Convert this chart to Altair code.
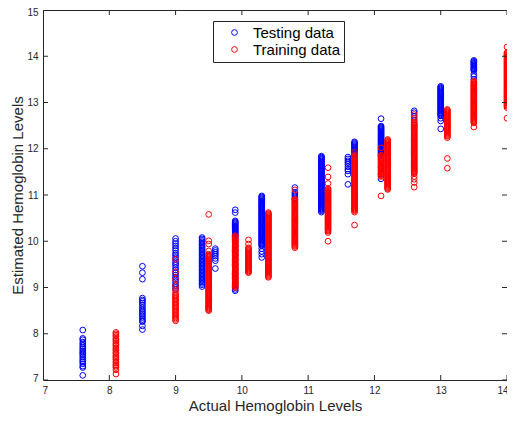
import altair as alt
import pandas as pd

# Axis ticks
x_ticks = [7, 8, 9, 10, 11, 12, 13, 14]
y_ticks = [7, 8, 9, 10, 11, 12, 13, 14, 15]

# Testing data: actual level -> estimated levels
test_levels = [7.6, 8.5, 9.0, 9.4, 9.6, 9.9, 10.3, 10.8, 11.2, 11.6, 11.7, 12.1, 12.6, 13.0, 13.5]
test_estimates = [
    [8.08, 7.90, 7.87, 7.82, 7.78, 7.74, 7.70, 7.67, 7.63, 7.60, 7.57, 7.54, 7.50, 7.46, 7.42, 7.39, 7.35, 7.30, 7.27, 7.10],
    [9.46, 9.32, 9.18, 8.77, 8.73, 8.70, 8.66, 8.62, 8.57, 8.53, 8.49, 8.46, 8.42, 8.39, 8.35, 8.31, 8.28, 8.26, 8.17, 8.09],
    [10.06, 10.00, 9.95, 9.90, 9.85, 9.80, 9.74, 9.70, 9.65, 9.61, 9.56, 9.52, 9.48, 9.43, 9.38, 9.32, 9.27, 9.22, 9.18, 9.13, 9.08, 9.04, 9.00, 8.96],
    [10.08, 10.05, 10.02, 9.99, 9.96, 9.93, 9.90, 9.87, 9.84, 9.81, 9.78, 9.75, 9.72, 9.69, 9.66, 9.63, 9.60, 9.57, 9.54, 9.51, 9.48, 9.45, 9.42, 9.39, 9.36, 9.33, 9.30, 9.27, 9.24, 9.21, 9.18, 9.15, 9.12, 9.09, 9.06, 9.02],
    [9.84, 9.80, 9.76, 9.72, 9.68, 9.63, 9.58, 9.41],
    [10.68, 10.62, 10.44, 10.42, 10.40, 10.38, 10.36, 10.34, 10.32, 10.30, 10.28, 10.26, 10.24, 10.22, 10.20, 10.18, 10.16, 10.14, 10.12, 10.08, 10.00, 9.90, 9.80, 9.70, 9.60, 9.50, 9.40, 9.30, 9.20, 9.10, 9.05, 9.00, 8.96, 8.93],
    [10.98, 10.96, 10.94, 10.92, 10.90, 10.88, 10.86, 10.84, 10.82, 10.80, 10.78, 10.76, 10.74, 10.72, 10.70, 10.68, 10.66, 10.64, 10.62, 10.60, 10.58, 10.56, 10.54, 10.52, 10.50, 10.48, 10.46, 10.44, 10.42, 10.40, 10.38, 10.36, 10.34, 10.32, 10.30, 10.28, 10.26, 10.24, 10.22, 10.20, 10.18, 10.16, 10.14, 10.12, 10.10, 10.08, 10.06, 10.04, 10.02, 10.00, 9.98, 9.96, 9.94, 9.92, 9.90, 9.84, 9.78, 9.72, 9.65],
    [11.16, 11.06, 11.02, 10.98, 10.94, 10.91],
    [11.84, 11.82, 11.80, 11.78, 11.76, 11.74, 11.72, 11.70, 11.68, 11.66, 11.64, 11.62, 11.60, 11.58, 11.56, 11.54, 11.52, 11.50, 11.48, 11.46, 11.44, 11.42, 11.40, 11.38, 11.36, 11.34, 11.32, 11.30, 11.28, 11.26, 11.24, 11.22, 11.20, 11.18, 11.16, 11.14, 11.12, 11.10, 11.08, 11.06, 11.04, 11.02, 11.00, 10.98, 10.96, 10.94, 10.92, 10.90, 10.88, 10.86, 10.84, 10.82, 10.80, 10.78, 10.76, 10.74, 10.72, 10.70, 10.68, 10.66, 10.63],
    [11.82, 11.78, 11.74, 11.70, 11.66, 11.61, 11.56, 11.52, 11.45, 11.23],
    [12.15, 12.13, 12.11, 12.09, 12.07, 12.05, 12.03, 12.01, 11.99, 11.97, 11.95, 11.93, 11.91, 11.89, 11.87],
    [12.65, 12.49, 12.47, 12.45, 12.43, 12.41, 12.39, 12.37, 12.35, 12.33, 12.31, 12.29, 12.27, 12.25, 12.23, 12.21, 12.19, 12.17, 12.15, 12.13, 12.11, 12.09, 12.07, 12.05, 12.03, 12.01, 11.99, 11.97, 11.95, 11.93, 11.91, 11.89, 11.87, 11.85, 11.60, 11.45, 11.35],
    [12.82, 12.78, 12.70, 12.62],
    [13.35, 13.33, 13.31, 13.29, 13.27, 13.25, 13.23, 13.21, 13.19, 13.17, 13.15, 13.13, 13.11, 13.09, 13.07, 13.05, 13.03, 13.01, 12.99, 12.97, 12.95, 12.93, 12.91, 12.89, 12.87, 12.85, 12.83, 12.81, 12.79, 12.77, 12.75, 12.73, 12.71, 12.66, 12.60, 12.43],
    [13.91, 13.89, 13.87, 13.85, 13.83, 13.81, 13.79, 13.77, 13.75, 13.73, 13.71, 13.69, 13.61, 13.56, 13.50],
]

# Training data: actual level -> estimated levels
train_levels = [8.1, 9.0, 9.5, 9.9, 10.1, 10.4, 10.8, 11.3, 11.7, 12.1, 12.2, 12.6, 13.1, 13.5, 14.0]
train_estimates = [
    [8.03, 8.00, 7.97, 7.94, 7.90, 7.87, 7.84, 7.80, 7.77, 7.74, 7.70, 7.67, 7.64, 7.60, 7.57, 7.53, 7.50, 7.47, 7.44, 7.40, 7.37, 7.33, 7.30, 7.27, 7.22, 7.13],
    [9.61, 9.34, 9.18, 9.04, 8.95, 8.89, 8.85, 8.82, 8.79, 8.76, 8.73, 8.70, 8.67, 8.64, 8.61, 8.58, 8.55, 8.52, 8.49, 8.46, 8.43, 8.40, 8.37, 8.34, 8.31, 8.28],
    [10.58, 10.01, 9.94, 9.79, 9.72, 9.70, 9.68, 9.66, 9.64, 9.62, 9.60, 9.58, 9.56, 9.54, 9.52, 9.50, 9.48, 9.46, 9.44, 9.42, 9.40, 9.38, 9.36, 9.34, 9.32, 9.30, 9.28, 9.26, 9.24, 9.22, 9.20, 9.18, 9.16, 9.14, 9.12, 9.10, 9.08, 9.06, 9.04, 9.02, 9.00, 8.98, 8.96, 8.94, 8.92, 8.90, 8.88, 8.86, 8.84, 8.82, 8.80, 8.78, 8.76, 8.74, 8.72, 8.70, 8.68, 8.66, 8.64, 8.62, 8.60, 8.58, 8.56, 8.54, 8.52, 8.50],
    [10.12, 10.10, 10.08, 10.06, 10.04, 10.02, 10.00, 9.98, 9.96, 9.94, 9.92, 9.90, 9.88, 9.86, 9.84, 9.82, 9.80, 9.78, 9.76, 9.74, 9.72, 9.70, 9.68, 9.66, 9.64, 9.62, 9.60, 9.58, 9.56, 9.54, 9.52, 9.50, 9.48, 9.46, 9.44, 9.42, 9.40, 9.38, 9.36, 9.34, 9.32, 9.30, 9.28, 9.26, 9.24, 9.22, 9.20, 9.18, 9.16, 9.14, 9.12, 9.10, 9.08, 9.06, 9.04, 9.02, 9.00],
    [10.03, 9.94, 9.86, 9.84, 9.82, 9.80, 9.78, 9.76, 9.74, 9.72, 9.70, 9.68, 9.66, 9.64, 9.62, 9.60, 9.58, 9.56, 9.54, 9.52, 9.50, 9.48, 9.46, 9.44, 9.42, 9.40, 9.38, 9.36, 9.34, 9.32],
    [10.62, 10.60, 10.58, 10.56, 10.54, 10.52, 10.50, 10.48, 10.46, 10.44, 10.42, 10.40, 10.38, 10.36, 10.34, 10.32, 10.30, 10.28, 10.26, 10.24, 10.22, 10.20, 10.18, 10.16, 10.14, 10.12, 10.10, 10.08, 10.06, 10.04, 10.02, 10.00, 9.98, 9.96, 9.94, 9.92, 9.90, 9.88, 9.86, 9.84, 9.82, 9.80, 9.78, 9.76, 9.74, 9.72, 9.70, 9.68, 9.66, 9.64, 9.62, 9.60, 9.58, 9.56, 9.54, 9.52, 9.50, 9.48, 9.46, 9.44, 9.42, 9.40, 9.38, 9.36, 9.34, 9.32, 9.30, 9.28, 9.26, 9.24, 9.22],
    [11.11, 10.91, 10.89, 10.87, 10.85, 10.83, 10.81, 10.79, 10.77, 10.75, 10.73, 10.71, 10.69, 10.67, 10.65, 10.63, 10.61, 10.59, 10.57, 10.55, 10.53, 10.51, 10.49, 10.47, 10.45, 10.43, 10.41, 10.39, 10.37, 10.35, 10.33, 10.31, 10.29, 10.27, 10.25, 10.23, 10.21, 10.19, 10.17, 10.15, 10.13, 10.11, 10.09, 10.07, 10.05, 10.03, 10.01, 9.99, 9.97, 9.95, 9.93, 9.91, 9.89, 9.86],
    [11.59, 11.39, 11.25, 11.14, 11.12, 11.10, 11.08, 11.06, 11.04, 11.02, 11.00, 10.98, 10.96, 10.94, 10.92, 10.90, 10.88, 10.86, 10.84, 10.82, 10.80, 10.78, 10.76, 10.74, 10.72, 10.70, 10.68, 10.66, 10.64, 10.62, 10.60, 10.58, 10.56, 10.54, 10.52, 10.50, 10.48, 10.46, 10.44, 10.42, 10.40, 10.38, 10.36, 10.34, 10.32, 10.30, 10.28, 10.26, 10.24, 10.22, 10.19, 10.00],
    [11.92, 11.86, 11.84, 11.82, 11.80, 11.78, 11.76, 11.74, 11.72, 11.70, 11.68, 11.66, 11.64, 11.62, 11.60, 11.58, 11.56, 11.54, 11.52, 11.50, 11.48, 11.46, 11.44, 11.42, 11.40, 11.38, 11.36, 11.34, 11.32, 11.30, 11.28, 11.26, 11.24, 11.22, 11.20, 11.18, 11.16, 11.14, 11.12, 11.10, 11.08, 11.06, 11.04, 11.02, 11.00, 10.98, 10.96, 10.94, 10.92, 10.90, 10.88, 10.86, 10.84, 10.82, 10.80, 10.78, 10.76, 10.74, 10.72, 10.70, 10.68, 10.66, 10.63, 10.35],
    [12.02, 11.86, 11.84, 11.82, 11.80, 11.78, 11.76, 11.74, 11.72, 11.70, 11.68, 11.66, 11.64, 11.62, 11.60, 11.58, 11.56, 11.54, 11.52, 11.50, 11.48, 11.46, 11.44, 11.42, 11.40, 10.98],
    [12.20, 12.18, 12.16, 12.14, 12.12, 12.10, 12.08, 12.06, 12.04, 12.02, 12.00, 11.98, 11.96, 11.94, 11.92, 11.90, 11.88, 11.86, 11.84, 11.82, 11.80, 11.78, 11.76, 11.74, 11.72, 11.70, 11.68, 11.66, 11.64, 11.62, 11.60, 11.58, 11.56, 11.54, 11.52, 11.50, 11.48, 11.46, 11.44, 11.42, 11.40, 11.38, 11.36, 11.34, 11.32, 11.30, 11.28, 11.26, 11.24, 11.22, 11.20, 11.18, 11.16, 11.14, 11.12],
    [12.74, 12.66, 12.58, 12.56, 12.54, 12.52, 12.50, 12.48, 12.46, 12.44, 12.42, 12.40, 12.38, 12.36, 12.34, 12.32, 12.30, 12.28, 12.26, 12.24, 12.22, 12.20, 12.18, 12.16, 12.14, 12.12, 12.10, 12.08, 12.06, 12.04, 12.02, 12.00, 11.98, 11.96, 11.94, 11.92, 11.90, 11.88, 11.86, 11.84, 11.82, 11.80, 11.78, 11.76, 11.74, 11.72, 11.70, 11.68, 11.66, 11.64, 11.62, 11.60, 11.58, 11.56, 11.54, 11.52, 11.50, 11.48, 11.46, 11.40, 11.34, 11.27, 11.17],
    [12.85, 12.83, 12.81, 12.79, 12.77, 12.75, 12.73, 12.71, 12.69, 12.67, 12.65, 12.63, 12.61, 12.59, 12.57, 12.55, 12.53, 12.51, 12.49, 12.47, 12.45, 12.43, 12.41, 12.39, 12.37, 12.35, 12.33, 12.31, 12.29, 12.27, 12.24, 11.79, 11.58],
    [13.46, 13.44, 13.42, 13.40, 13.38, 13.36, 13.34, 13.32, 13.30, 13.28, 13.26, 13.24, 13.22, 13.20, 13.18, 13.16, 13.14, 13.12, 13.10, 13.08, 13.06, 13.04, 13.02, 13.00, 12.98, 12.96, 12.94, 12.92, 12.90, 12.88, 12.86, 12.84, 12.82, 12.80, 12.78, 12.76, 12.74, 12.72, 12.70, 12.68, 12.66, 12.64, 12.62, 12.60, 12.58, 12.56, 12.47],
    [14.20, 14.08, 14.06, 14.04, 14.02, 14.00, 13.98, 13.96, 13.94, 13.92, 13.90, 13.88, 13.86, 13.84, 13.82, 13.80, 13.78, 13.76, 13.74, 13.72, 13.70, 13.68, 13.66, 13.64, 13.62, 13.60, 13.58, 13.56, 13.54, 13.52, 13.50, 13.48, 13.46, 13.44, 13.42, 13.40, 13.38, 13.36, 13.34, 13.32, 13.30, 13.28, 13.26, 13.24, 13.22, 13.20, 13.18, 13.16, 13.14, 13.12, 13.10, 13.08, 13.06, 13.04, 13.02, 13.00, 12.98, 12.96, 12.94, 12.92, 12.89, 12.66],
]

series_names = ["Testing data", "Training data"]
series_colors = ["#0000ff", "#ff0000"]

rows = []
for lvl, ests in zip(test_levels, test_estimates):
    for e in ests:
        rows.append({"actual": lvl, "estimated": e, "set": series_names[0]})
for lvl, ests in zip(train_levels, train_estimates):
    for e in ests:
        rows.append({"actual": lvl, "estimated": e, "set": series_names[1]})
df = pd.DataFrame(rows)

# tick mark tables (inward ticks on all four sides)
vticks = pd.DataFrame(
    [{"actual": t, "estimated": y_ticks[0]} for t in x_ticks]
    + [{"actual": t, "estimated": y_ticks[-1]} for t in x_ticks]
)
hticks = pd.DataFrame(
    [{"actual": x_ticks[0], "estimated": t} for t in y_ticks]
    + [{"actual": x_ticks[-1], "estimated": t} for t in y_ticks]
)

AX = "#262626"
FONT = "Liberation Sans"

xs = alt.Scale(domain=[x_ticks[0], x_ticks[-1]], nice=False, zero=False)
ys = alt.Scale(domain=[y_ticks[0], y_ticks[-1]], nice=False, zero=False)

x_axis = alt.Axis(values=x_ticks, format="d", labelPadding=5, titlePadding=3,
                  labelFlush=True, labelFlushOffset=1)
y_axis = alt.Axis(values=y_ticks, format="d", labelPadding=5, titlePadding=1,
                  labelFlush=True, labelFlushOffset=3)

def xenc():
    return alt.X("actual:Q", scale=xs, axis=x_axis, title="Actual Hemoglobin Levels")

def yenc():
    return alt.Y("estimated:Q", scale=ys, axis=y_axis, title="Estimated Hemoglobin Levels")

points = alt.Chart(df).mark_point(
    filled=False, size=33, strokeWidth=1, opacity=1, clip=True
).encode(
    x=xenc(),
    y=yenc(),
    color=alt.Color(
        "set:N",
        scale=alt.Scale(domain=series_names, range=series_colors),
        legend=alt.Legend(
            title=None,
            orient="none",
            legendX=170,
            legendY=11,
            strokeColor=AX,
            fillColor="white",
            padding=4,
            symbolType="circle",
            symbolSize=33,
            symbolStrokeWidth=1,
            symbolOffset=10,
            labelOffset=11,
            labelFontSize=15,
            labelFont=FONT,
            labelColor="black",
            rowPadding=1,
        ),
    ),
)

vt = alt.Chart(vticks).mark_tick(
    orient="vertical", size=10, thickness=1, color=AX, clip=True, opacity=1
).encode(x=xenc(), y=yenc())

ht = alt.Chart(hticks).mark_tick(
    orient="horizontal", size=10, thickness=1, color=AX, clip=True, opacity=1
).encode(x=xenc(), y=yenc())

chart = (
    alt.layer(points, vt, ht)
    .properties(
        width=464,
        height=370,
        autosize=alt.AutoSizeParams(type="none"),
        padding={"left": 35, "top": 2, "right": 0, "bottom": 34},
    )
    .configure_view(stroke=AX, strokeWidth=1)
    .configure_axis(
        grid=False,
        domain=False,
        ticks=False,
        tickSize=0,
        labelFont=FONT,
        labelFontSize=10,
        labelColor=AX,
        titleFont=FONT,
        titleFontSize=15,
        titleFontWeight="normal",
        titleColor=AX,
    )
)

chart.save("out.html", embed_options={"renderer": "svg", "actions": False})
